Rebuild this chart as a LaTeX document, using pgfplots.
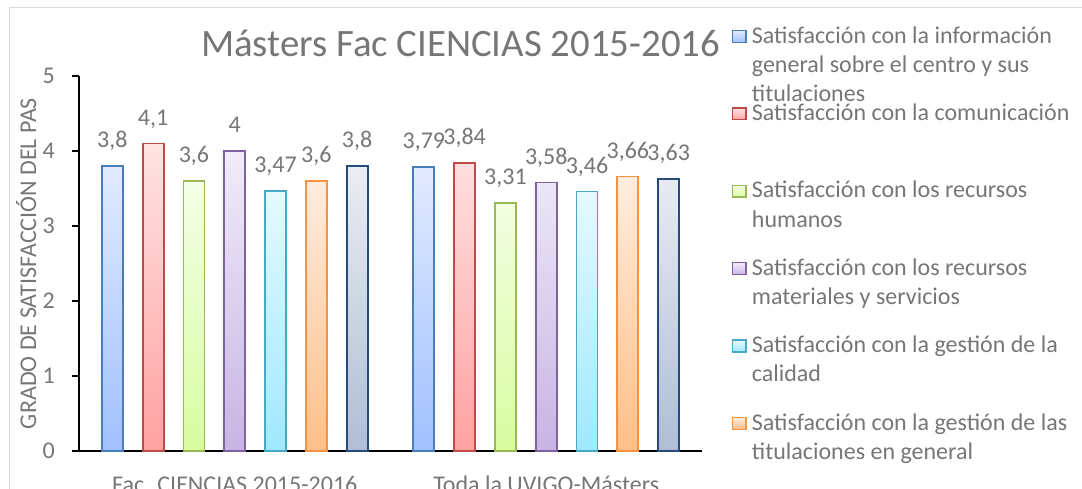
\documentclass[border=0pt]{standalone}
\usepackage{fontspec}
\setmainfont{Carlito}
\usepackage{pgfplots}
\pgfplotsset{compat=1.18}

\definecolor{txt}{HTML}{767676}
\definecolor{frame}{HTML}{D9D9D9}
% border / top / bottom colour of each series
\definecolor{bA}{HTML}{4A7EBB}\definecolor{tA}{HTML}{E2EBFF}\definecolor{uA}{HTML}{A0C0FF}
\definecolor{bB}{HTML}{BE4B48}\definecolor{tB}{HTML}{FFE3E3}\definecolor{uB}{HTML}{FFA1A1}
\definecolor{bC}{HTML}{98B954}\definecolor{tC}{HTML}{F5FFE8}\definecolor{uC}{HTML}{D8FCA0}
\definecolor{bD}{HTML}{7E62A1}\definecolor{tD}{HTML}{F0ECF8}\definecolor{uD}{HTML}{C8B4E4}
\definecolor{bE}{HTML}{46AAC5}\definecolor{tE}{HTML}{E6F9FF}\definecolor{uE}{HTML}{A0E8FF}
\definecolor{bF}{HTML}{F69240}\definecolor{tF}{HTML}{FFEDDF}\definecolor{uF}{HTML}{FFBF88}
\definecolor{bG}{HTML}{254B7A}\definecolor{tG}{HTML}{EAEDF3}\definecolor{uG}{HTML}{B0BDD5}

% legend text: first line counts, the rest hangs below with no depth
\newcommand{\leg}[1]{\raisebox{0pt}[18pt][0pt]{\parbox[t]{330pt}{\fontsize{24}{29.2}\selectfont #1}}}

\pgfplotsset{
  bars/.style={line width=1.8pt,
    legend image code/.code={%
      \path[draw=none, fill=none] (0pt,-58.6pt) -- (0pt,18.8pt);
      \draw[##1, line width=1.5pt] (0pt,0.7pt) rectangle (13.5pt,12.5pt);}},
}

\begin{document}
\begin{tikzpicture}
\path[use as bounding box] (0,0) rectangle (1082pt,488pt);
\clip (0,0) rectangle (1082pt,488pt);
\draw[frame, line width=1pt] (9.5pt,480pt) rectangle (1100pt,-20pt);
\begin{axis}[
  at={(79pt,37pt)}, anchor=south west,
  scale only axis, width=623pt, height=375pt,
  ybar=19.8pt, bar width=21pt,
  xmin=-0.5, xmax=1.5, ymin=0, ymax=5,
  xtick={0,1},
  xticklabels={Fac. CIENCIAS 2015-2016, Toda la UVIGO-Másters},
  ytick={0,1,2,3,4,5},
  axis x line=bottom, axis y line=left,
  axis line style={-, black, line width=1.5pt},
  tick align=outside, major tick length=7pt,
  ytick style={black, line width=1.5pt},
  xtick style={draw=none},
  /pgf/number format/.cd, use comma, 1000 sep={}, assume math mode=true,
  /pgfplots/.cd,
  tick label style={font=\fontsize{24}{29}\selectfont, text=txt},
  xticklabel style={anchor=base, yshift=-34.5pt},
  yticklabel style={anchor=east, inner sep=0pt, xshift=-17pt},
  ylabel={GRADO DE SATISFACCIÓN DEL PAS},
  ylabel style={at={(axis description cs:-0.069,0.5)}, anchor=base,
    font=\fontsize{24}{29}\selectfont, text=txt},
  title={Másters Fac CIENCIAS 2015-2016},
  title style={at={(axis description cs:0.6124,1.036)}, anchor=base,
    font=\fontsize{38.8}{46}\selectfont, text=txt},
  nodes near coords,
  nodes near coords style={anchor=base, yshift=18pt,
    font=\fontsize{24}{29}\selectfont, text=txt},
  legend style={at={(axis description cs:1.0477,1.1386)}, anchor=north west,
    draw=none, fill=none, inner sep=0pt, column sep=5pt, row sep=0pt,
    cells={anchor=base west}, nodes={inner sep=0pt, text=txt}},
]
\addplot[bars, draw=bA, top color=tA, bottom color=uA] coordinates {(0,3.8) (1,3.79)};
\addlegendentry{\leg{Satisfacción con la información\\general sobre el centro y sus\\titulaciones}}
\addplot[bars, draw=bB, top color=tB, bottom color=uB] coordinates {(0,4.1) (1,3.84)};
\addlegendentry{\leg{Satisfacción con la comunicación}}
\addplot[bars, draw=bC, top color=tC, bottom color=uC] coordinates {(0,3.6) (1,3.31)};
\addlegendentry{\leg{Satisfacción con los recursos\\humanos}}
\addplot[bars, draw=bD, top color=tD, bottom color=uD] coordinates {(0,4) (1,3.58)};
\addlegendentry{\leg{Satisfacción con los recursos\\materiales y servicios}}
\addplot[bars, draw=bE, top color=tE, bottom color=uE] coordinates {(0,3.47) (1,3.46)};
\addlegendentry{\leg{Satisfacción con la gestión de la\\calidad}}
\addplot[bars, draw=bF, top color=tF, bottom color=uF] coordinates {(0,3.6) (1,3.66)};
\addlegendentry{\leg{Satisfacción con la gestión de las\\titulaciones en general}}
\addplot[bars, draw=bG, top color=tG, bottom color=uG] coordinates {(0,3.8) (1,3.63)};
\addlegendentry{\leg{Satisfacción general}}
\end{axis}
\end{tikzpicture}
\end{document}
